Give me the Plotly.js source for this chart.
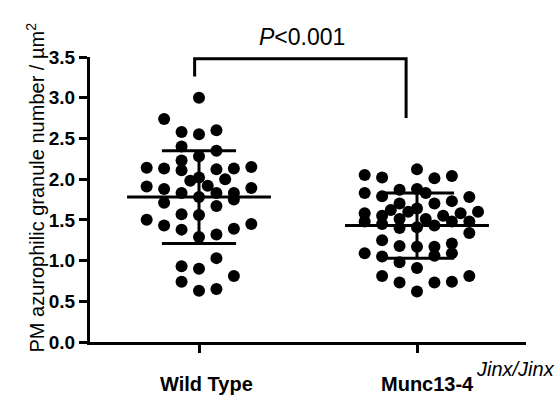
<!DOCTYPE html>
<html>
<head>
<meta charset="utf-8">
<script src="https://cdn.plot.ly/plotly-3.0.1.min.js"></script>
<style>html,body{margin:0;padding:0;background:#fff;}#chart{width:557px;height:395px;}</style>
</head>
<body>
<div id="chart"></div>
<script>
// Categories
var categories = ["Wild Type", "Munc13-4"];
var categorySuperscript = ["", "Jinx/Jinx"];
var yTickVals = [0, 0.5, 1.0, 1.5, 2.0, 2.5, 3.0, 3.5];
var yTickText = ["0.0", "0.5", "1.0", "1.5", "2.0", "2.5", "3.0", "3.5"];

// Wild Type values (granules / µm²) and their dot-plot column (in dot widths)
var wtValues = [3.00, 2.74, 2.58, 2.55, 2.60, 2.40, 2.35, 2.28, 2.23, 2.14,
                2.13, 2.11, 2.12, 2.13, 2.15, 2.00, 1.98, 2.02, 1.92, 1.91,
                1.88, 1.83, 1.78, 1.83, 1.83, 1.75, 1.89, 1.71, 1.67, 1.57,
                1.56, 1.50, 1.43, 1.38, 1.29, 1.32, 1.39, 1.45, 1.03, 0.93,
                0.90, 0.81, 0.74, 0.63, 0.65];
var wtColumns = [0, -2, -1, 0, 1, -1, 1, 0, -1, -3,
                 -2, -1, 1, 2, 3, 1.5, -0.5, 0, 0.5, -3,
                 -2, -1, 0, 1, 2, 2, 3, -2, 1, -1,
                 0, -3, -2, -1, 0, 1, 2, 3, 1, -1,
                 0, 2, -1, 0, 1];

// Munc13-4 Jinx/Jinx values
var muncValues = [2.12, 2.05, 2.02, 2.01, 2.04, 1.83, 1.79, 1.87, 1.88, 1.83,
                  1.78, 1.73, 1.70, 1.70, 1.62, 1.60, 1.64, 1.58, 1.55, 1.55,
                  1.58, 1.60, 1.48, 1.45, 1.51, 1.40, 1.51, 1.41, 1.43, 1.48,
                  1.48, 1.34, 1.25, 1.18, 1.17, 1.17, 1.21, 1.09, 1.05, 1.06,
                  1.09, 0.98, 0.91, 0.81, 0.73, 0.62, 0.73, 0.74, 0.81];
var muncColumns = [0, -3, -2, 1, 2, -3, -2, -1, 0, 0.5,
                   3, 2, -1, 1, -1.5, -0.5, 0, -3, -2, 1.5,
                   2.5, 3.5, -3, -2, -1, -1, 0.5, 0, 1, 2,
                   3, 3, -2, -1, 0, 1, 2, -3, -2, 1,
                   2, -1, 0, -2, -1, 0, 1, 2, 3];

// Summary statistics (mean ± SD)
var means = [1.78, 1.43];
var sds = [0.57, 0.40];

var pValueText = "<i>P</i><0.001";

var positions = [1, 2];
var dotStep = 0.08;
var meanHalf = 0.33;
var sdHalf = 0.17;

var seriesValues = [wtValues, muncValues];
var seriesColumns = [wtColumns, muncColumns];

var traces = [];
for (var g = 0; g < 2; g++) {
  var xs = seriesColumns[g].map(function (c) { return positions[g] + c * dotStep; });
  traces.push({
    type: "scatter", mode: "markers", x: xs, y: seriesValues[g],
    marker: {color: "#000", size: 12, line: {width: 0}},
    hoverinfo: "y", showlegend: false, cliponaxis: false
  });
  var p = positions[g], m = means[g], s = sds[g];
  // mean line
  traces.push({type: "scatter", mode: "lines", x: [p - meanHalf, p + meanHalf], y: [m, m],
    line: {color: "#000", width: 3}, showlegend: false, hoverinfo: "skip"});
  // SD caps
  traces.push({type: "scatter", mode: "lines",
    x: [p - sdHalf, p + sdHalf, null, p - sdHalf, p + sdHalf, null, p, p],
    y: [m + s, m + s, null, m - s, m - s, null, m - s, m + s],
    line: {color: "#000", width: 3}, showlegend: false, hoverinfo: "skip"});
}

var fontFam = "Liberation Sans, Arial, Helvetica, sans-serif";

var annotations = [];
for (var i = 0; i < categories.length; i++) {
  annotations.push({
    xref: "x", yref: "paper", x: positions[i], y: 0, yshift: -42,
    xshift: (i === 0 ? 7 : 10), text: "<b>" + categories[i] + "</b>",
    showarrow: false, xanchor: "center", yanchor: "middle",
    font: {family: fontFam, size: 20, color: "#000"}
  });
}
annotations.push({
  xref: "x", yref: "paper", x: positions[1], y: 0, xshift: 57, yshift: -27,
  text: "<i>" + categorySuperscript[1] + "</i>", showarrow: false,
  xanchor: "left", yanchor: "middle",
  font: {family: fontFam, size: 20, color: "#000"}
});
annotations.push({
  xref: "paper", yref: "paper", x: 0, xshift: -55, y: 0.5, yshift: 12,
  text: "PM azurophilic granule number / µm<sup>2</sup>", textangle: -90,
  showarrow: false, xanchor: "center", yanchor: "middle",
  font: {family: fontFam, size: 20, color: "#000"}
});
annotations.push({
  xref: "paper", yref: "paper", x: 0.486, y: 1, yshift: 20,
  text: pValueText, showarrow: false, xanchor: "center", yanchor: "middle",
  font: {family: fontFam, size: 23, color: "#000"}
});

var shapes = [{
  type: "path", xref: "x", yref: "y",
  path: "M 0.98 3.26 L 0.98 3.48 L 1.95 3.48 L 1.95 2.75",
  line: {color: "#000", width: 3}
}];

var layout = {
  width: 557, height: 395,
  margin: {l: 90, r: 31, t: 57, b: 53},
  paper_bgcolor: "#fff", plot_bgcolor: "#fff",
  showlegend: false,
  xaxis: {
    range: [0.5, 2.5], tickvals: positions, showticklabels: false,
    ticks: "outside", ticklen: 8, tickwidth: 3, tickcolor: "#000",
    showline: true, linecolor: "#000", linewidth: 3,
    showgrid: false, zeroline: false, fixedrange: true
  },
  yaxis: {
    range: [0, 3.5], tickvals: yTickVals, ticktext: yTickText,
    ticks: "outside", ticklen: 8, tickwidth: 3, tickcolor: "#000",
    showline: true, linecolor: "#000", linewidth: 3,
    showgrid: false, zeroline: false, fixedrange: true,
    tickfont: {family: fontFam, size: 19, color: "#000", weight: "bold"}
  },
  annotations: annotations,
  shapes: shapes
};

Plotly.newPlot("chart", traces, layout, {displayModeBar: false, staticPlot: true});
</script>
</body>
</html>
